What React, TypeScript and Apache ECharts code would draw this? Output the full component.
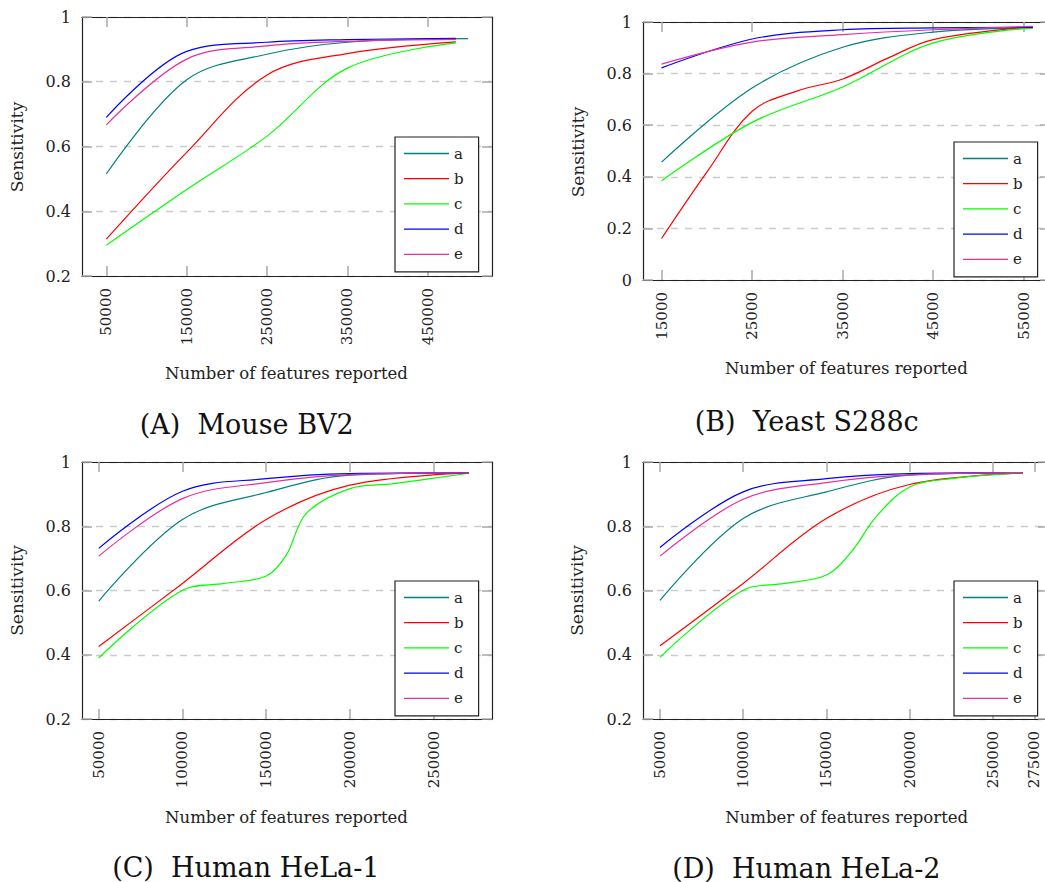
import React, { useEffect, useRef } from "react";
import * as echarts from "echarts";

// ---------- data ----------
const SERIES_NAMES = ["a", "b", "c", "d", "e"];

// (A) Mouse BV2
const A_TICKS = [50000, 150000, 250000, 350000, 450000];
const A_X = [50000, 150000, 250000, 350000, 485000];
const A_X_a = [50000, 150000, 250000, 350000, 500000];
const A_a = [0.515, 0.806, 0.885, 0.922, 0.933];
const A_b = [0.314, 0.582, 0.821, 0.887, 0.923];
const A_c = [0.295, 0.467, 0.632, 0.842, 0.92];
const A_d = [0.69, 0.894, 0.922, 0.93, 0.934];
const A_e = [0.667, 0.87, 0.911, 0.925, 0.931];

// (B) Yeast S288c
const B_TICKS = [15000, 25000, 35000, 45000, 55000];
const B_X = [15000, 25000, 35000, 45000, 56000];
const B_X_b = [15000, 20000, 25000, 30000, 35000, 40000, 45000, 56000];
const B_a = [0.457, 0.744, 0.902, 0.961, 0.977];
const B_b = [0.161, 0.418, 0.654, 0.733, 0.779, 0.86, 0.932, 0.981];
const B_c = [0.385, 0.611, 0.748, 0.919, 0.977];
const B_d = [0.822, 0.934, 0.97, 0.977, 0.979];
const B_e = [0.837, 0.922, 0.951, 0.97, 0.983];

// (C) Human HeLa-1
const C_TICKS = [50000, 100000, 150000, 200000, 250000];
const C_X = [50000, 100000, 150000, 200000, 271000];
const C_X_c = [50000, 100000, 125000, 150000, 162000, 174000, 200000, 225000, 271000];
const C_a = [0.567, 0.821, 0.905, 0.959, 0.966];
const C_b = [0.426, 0.622, 0.821, 0.928, 0.966];
const C_c = [0.39, 0.601, 0.622, 0.645, 0.71, 0.84, 0.917, 0.932, 0.965];
const C_d = [0.731, 0.909, 0.948, 0.964, 0.966];
const C_e = [0.707, 0.886, 0.936, 0.961, 0.966];

// (D) Human HeLa-2
const D_TICKS = [50000, 100000, 150000, 200000, 250000, 275000];
const D_X = [50000, 100000, 150000, 200000, 268000];
const D_X_c = [50000, 100000, 125000, 150000, 165000, 180000, 200000, 225000, 268000];
const D_a = [0.569, 0.824, 0.907, 0.959, 0.966];
const D_b = [0.428, 0.622, 0.824, 0.93, 0.966];
const D_c = [0.392, 0.601, 0.622, 0.648, 0.72, 0.83, 0.922, 0.948, 0.967];
const D_d = [0.734, 0.907, 0.948, 0.964, 0.967];
const D_e = [0.707, 0.884, 0.936, 0.96, 0.967];

const Y_LABEL = "Sensitivity";
const X_LABEL = "Number of features reported";
const CAPTIONS = ["(A)  Mouse BV2", "(B)  Yeast S288c", "(C)  Human HeLa-1", "(D)  Human HeLa-2"];

// ---------- styling ----------
const FONT = '"DejaVu Serif", serif';
const COLORS = ["#008080", "#ff0000", "#00ff00", "#0000ff", "#e6309a"];
const SPINE = { color: "#222", width: 1.2 };
const TICK = { color: "#a8a8a8", width: 1.5 };
const LEGEND_LINE = "path://M0,0H45V1.3H0Z";

const zip = (xs: number[], ys: number[]) => xs.map((x, i) => [x, ys[i]]);

const panels = [
  {
    grid: { left: 82, top: 17, width: 410, height: 259 },
    xMin: 19700, xMax: 530000, yMin: 0.2, ticks: A_TICKS,
    data: [zip(A_X_a, A_a), zip(A_X, A_b), zip(A_X, A_c), zip(A_X, A_d), zip(A_X, A_e)],
    legend: { left: 395, top: 137 },
    yLabel: [17, 147], xLabel: [286.5, 373.3], caption: [246.7, 424],
  },
  {
    grid: { left: 643, top: 22, width: 407, height: 258 },
    xMin: 12950, xMax: 57900, yMin: 0, ticks: B_TICKS,
    data: [zip(B_X, B_a), zip(B_X_b, B_b), zip(B_X, B_c), zip(B_X, B_d), zip(B_X, B_e)],
    legend: { left: 954, top: 142 },
    yLabel: [578, 152], xLabel: [846.3, 368.3], caption: [806.7, 421],
  },
  {
    grid: { left: 82, top: 462, width: 410, height: 257 },
    xMin: 40000, xMax: 284900, yMin: 0.2, ticks: C_TICKS,
    data: [zip(C_X, C_a), zip(C_X, C_b), zip(C_X_c, C_c), zip(C_X, C_d), zip(C_X, C_e)],
    legend: { left: 395, top: 581 },
    yLabel: [17, 590.5], xLabel: [286.5, 817.3], caption: [245.8, 867.7],
  },
  {
    grid: { left: 643, top: 462, width: 405, height: 257 },
    xMin: 39790, xMax: 283230, yMin: 0.2, ticks: D_TICKS,
    data: [zip(D_X, D_a), zip(D_X, D_b), zip(D_X_c, D_c), zip(D_X, D_d), zip(D_X, D_e)],
    legend: { left: 954, top: 581 },
    yLabel: [577, 590.5], xLabel: [846.7, 817.3], caption: [806.3, 868],
  },
];

function buildOption() {
  const grid: any[] = [];
  const xAxis: any[] = [];
  const yAxis: any[] = [];
  const series: any[] = [];
  const legend: any[] = [];
  const graphic: any[] = [];

  panels.forEach((p, i) => {
    grid.push({ ...p.grid, containLabel: false });
    const tickCommon = { show: true, inside: true, length: 10, lineStyle: TICK };
    xAxis.push({
      gridIndex: i, type: "value", position: "bottom", min: p.xMin, max: p.xMax,
      axisLine: { show: true, onZero: false, lineStyle: SPINE },
      axisTick: { ...tickCommon, customValues: p.ticks },
      axisLabel: {
        show: true, rotate: 90, margin: 12, customValues: p.ticks,
        formatter: (v: number) => String(Math.round(v)),
        fontFamily: FONT, fontSize: 15, color: "#222",
      },
      splitLine: { show: false },
    });
    xAxis.push({
      gridIndex: i, type: "value", position: "top", min: p.xMin, max: p.xMax,
      axisLine: { show: true, onZero: false, lineStyle: SPINE },
      axisTick: { ...tickCommon, customValues: p.ticks },
      axisLabel: { show: false },
      splitLine: { show: false },
    });
    yAxis.push({
      gridIndex: i, type: "value", position: "left", min: p.yMin, max: 1, interval: 0.2,
      axisLine: { show: true, onZero: false, lineStyle: SPINE },
      axisTick: tickCommon,
      axisLabel: { show: true, margin: 11, fontFamily: FONT, fontSize: 16, color: "#222" },
      splitLine: { show: true, lineStyle: { type: [7, 7], color: "#cbcbcb", width: 1.3 } },
    });
    yAxis.push({
      gridIndex: i, type: "value", position: "right", min: p.yMin, max: 1, interval: 0.2,
      axisLine: { show: true, onZero: false, lineStyle: SPINE },
      axisTick: tickCommon,
      axisLabel: { show: false },
      splitLine: { show: false },
    });

    p.data.forEach((d, k) => {
      series.push({
        type: "line", name: SERIES_NAMES[k], xAxisIndex: 2 * i, yAxisIndex: 2 * i,
        data: d, symbol: "none", smooth: 0.35,
        lineStyle: { color: COLORS[k], width: 1.2 }, itemStyle: { color: COLORS[k] },
        z: 3,
      });
    });

    legend.push({
      show: true, orient: "vertical", left: p.legend.left, top: p.legend.top,
      data: SERIES_NAMES, icon: LEGEND_LINE, itemWidth: 45, itemHeight: 14, itemGap: 10.2,
      padding: [9, 15, 10, 9], borderColor: "#222", borderWidth: 1.2, borderRadius: 0,
      backgroundColor: "#fff", selectedMode: false,
      itemStyle: { borderWidth: 0 },
      textStyle: { fontFamily: FONT, fontSize: 15, color: "#222" },
      z: 10,
    });

    graphic.push({
      type: "text", x: p.yLabel[0], y: p.yLabel[1], rotation: Math.PI / 2,
      style: {
        text: Y_LABEL, fontFamily: FONT, fontSize: 17, fill: "#222",
        align: "center", verticalAlign: "middle", textAlign: "center", textVerticalAlign: "middle",
      },
    });
    graphic.push({
      type: "text", x: p.xLabel[0], y: p.xLabel[1],
      style: {
        text: X_LABEL, fontFamily: FONT, fontSize: 16.5, fill: "#222",
        align: "center", verticalAlign: "middle", textAlign: "center", textVerticalAlign: "middle",
      },
    });
    graphic.push({
      type: "text", x: p.caption[0], y: p.caption[1],
      style: {
        text: CAPTIONS[i], fontFamily: FONT, fontSize: 27, fill: "#111",
        align: "center", verticalAlign: "middle", textAlign: "center", textVerticalAlign: "middle",
      },
    });
  });

  return { animation: false, backgroundColor: "#fff", grid, xAxis, yAxis, series, legend, graphic };
}

export default function App() {
  const ref = useRef<HTMLDivElement>(null);
  useEffect(() => {
    if (!ref.current) return;
    const chart = echarts.init(ref.current, null, { renderer: "svg" });
    chart.setOption(buildOption() as any);
    return () => chart.dispose();
  }, []);
  return (
    <div style={{ position: "fixed", left: 0, top: 0, width: 1045, height: 882, overflow: "hidden", background: "#fff" }}>
      <div ref={ref} style={{ width: 1060, height: 882 }} />
    </div>
  );
}
